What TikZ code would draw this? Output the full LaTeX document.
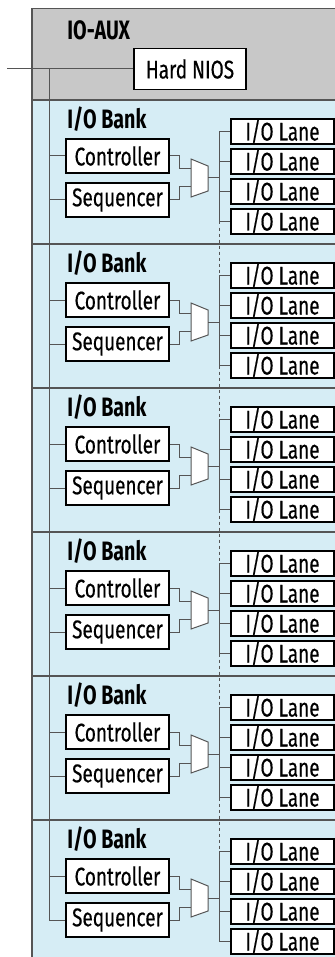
\documentclass[tikz,border=0pt]{standalone}
\usepackage{fontspec}
\setmainfont[FakeStretch=0.74]{Fira Sans}
\newfontfamily\boxfont[FakeStretch=0.74, FakeBold=0.4]{Fira Sans}

\definecolor{auxgray}{RGB}{200, 200, 200}
\definecolor{bankblue}{RGB}{214, 237, 245}
\definecolor{wiregray}{RGB}{85, 85, 85}

\tikzset{
  blk/.style={draw, fill=white, line width=0.7pt, inner sep=0pt, font=\boxfont\fontsize{12.8}{13}\selectfont},
  unit/.style={blk, minimum width=51.5pt, minimum height=17pt},
  lane/.style={blk, minimum width=51.5pt, minimum height=12.5pt},
  wire/.style={wiregray, line width=0.5pt},
  title/.style={anchor=west, inner sep=0pt, font=\fontsize{13.3}{14}\selectfont\bfseries},
}

\begin{document}
\begin{tikzpicture}[x=0.5pt, y=-0.5pt]
      \def\bh{144}
      \useasboundingbox (0,0) rectangle (335,957);
      \clip (0,0) rectangle (335,957);

      % IO-AUX strip on top, banks below
      \fill[auxgray] (32,8.7) rectangle (345,100);
      \fill[bankblue] (32,100) rectangle (345,960);
      \draw[line width=0.7pt, wiregray] (345,8.7) -- (32,8.7) -- (32,960);

      \node[title] (aux) at (67,30) {IO-AUX};
      \node[blk, minimum width=56pt, minimum height=20.5pt] (nios) at (190,69) {Hard NIOS};
      \coordinate (ext) at (7,69);
      \coordinate (tap) at (49,69);
      \draw[wire] (ext) -- (nios.west);

      % one I/O bank per step
      \foreach \b in {0,...,5} {
        \begin{scope}[shift={(0, \b*\bh)}]
          \draw[wiregray, line width=0.6pt] (32,100) -- (345,100);
          \node[title] (bank\b) at (67,119) {I/O Bank};

          \node[unit] (ctrl\b) at (117.5,156) {Controller};
          \node[unit] (seq\b) at (117.5,200) {Sequencer};
          \coordinate (tc\b) at (49,156);
          \coordinate (ts\b) at (49,200);
          \draw[wire] (tc\b) -- (ctrl\b.west);
          \draw[wire] (ts\b) -- (seq\b.west);

          % mux
          \draw[wire, fill=white] (191,159) -- (208,166) -- (208,191) -- (191,197) -- cycle;
          \coordinate (mia\b) at (191,169);
          \coordinate (mib\b) at (191,187);
          \coordinate (mo\b) at (208,178);
          \draw[wire] (ctrl\b.east) -- ++(10,0) |- (mia\b);
          \draw[wire] (seq\b.east) -- ++(10,0) |- (mib\b);

          \foreach \l in {1,...,4} {
            \node[lane] (lane\b-\l) at (282.5, {101.5 + 30*\l}) {I/O Lane};
            \coordinate (bus\b-\l) at (219, {101.5 + 30*\l});
            \draw[wire] (bus\b-\l) -- (lane\b-\l.west);
          }
          \draw[wire] (bus\b-1) -- (bus\b-4);
          \draw[wire] (mo\b) -- (mo\b -| bus\b-1);
        \end{scope}
      }

      \draw[wire] (tap) -- (ts5);
      \foreach \b/\n in {0/1, 1/2, 2/3, 3/4, 4/5} {
        \draw[wire, dash pattern=on 1.5pt off 1.5pt] (bus\b-4) -- (bus\n-1);
      }
    \end{tikzpicture}
\end{document}
